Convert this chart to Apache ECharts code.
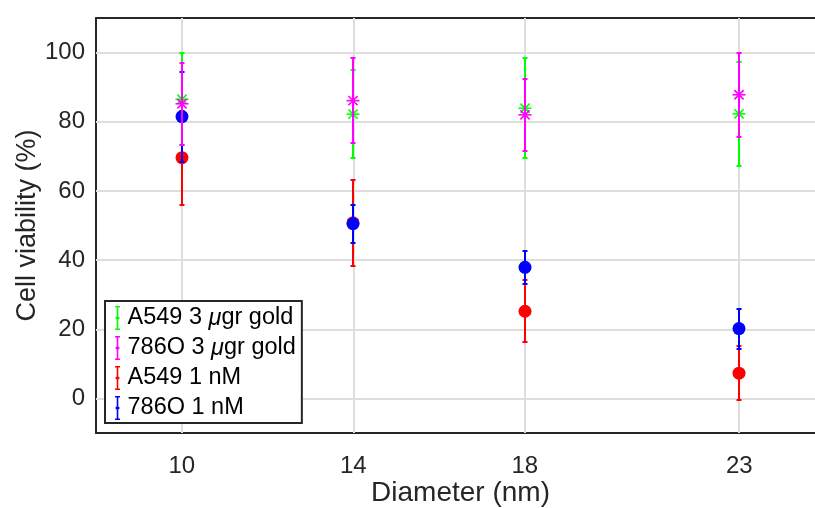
<!DOCTYPE html>
<html>
<head>
<meta charset="utf-8">
<script src="https://cdn.jsdelivr.net/npm/echarts@6/dist/echarts.min.js"></script>
<style>html,body{margin:0;padding:0;background:#fff;}#c{width:815px;height:508px;}</style>
</head>
<body>
<div id="c"></div>
<script>
// ---- data ----
const diameters = [10, 14, 18, 23];
const xTicks = [10, 14, 18, 23];
const yTicks = [0, 20, 40, 60, 80, 100];
const seriesNames = ['A549 3 μgr gold', '786O 3 μgr gold', 'A549 1 nM', '786O 1 nM'];
const a549GoldMean = [86.5, 82.2, 83.9, 82.3];
const a549GoldErr  = [13.3, 12.8, 14.5, 15.0];
const o786GoldMean = [85.2, 86.1, 82.0, 87.8];
const o786GoldErr  = [11.8, 12.2, 10.4, 12.1];
const a549NmMean   = [69.6, 50.8, 25.2, 7.3];
const a549NmErr    = [13.6, 12.4, 8.9, 7.8];
const o786NmMean   = [81.5, 50.5, 37.9, 20.2];
const o786NmErr    = [13.0, 5.5, 4.7, 5.8];

const FONT = '"Liberation Sans", Arial, Helvetica, sans-serif';
const TXT = '#262626';

function mk(mean, err) { return diameters.map((d, i) => [d, mean[i], err[i]]); }

function makeRender(color, marker) {
  return function (params, api) {
    const x = api.value(0), y = api.value(1), e = api.value(2);
    const t = api.coord([x, y + e]);
    const b = api.coord([x, y - e]);
    const c = api.coord([x, y]);
    const px = Math.round(c[0]);
    const ty = Math.round(t[1]), by = Math.round(b[1]);
    const cw = 2.5;
    const ls = { stroke: color, lineWidth: 2, fill: null };
    const children = [
      { type: 'line', shape: { x1: px, y1: ty, x2: px, y2: by }, style: ls },
      { type: 'line', shape: { x1: px - cw, y1: ty, x2: px + cw, y2: ty }, style: ls },
      { type: 'line', shape: { x1: px - cw, y1: by, x2: px + cw, y2: by }, style: ls }
    ];
    if (marker === 'circle') {
      children.push({ type: 'circle', shape: { cx: px, cy: c[1], r: 6.5 }, style: { fill: color } });
    } else {
      const r = 6.5, d = r * 0.707;
      const ss = { stroke: color, lineWidth: 1.6, fill: null };
      children.push({ type: 'line', shape: { x1: px - r, y1: c[1], x2: px + r, y2: c[1] }, style: ss });
      children.push({ type: 'line', shape: { x1: px, y1: c[1] - r, x2: px, y2: c[1] + r }, style: ss });
      children.push({ type: 'line', shape: { x1: px - d, y1: c[1] - d, x2: px + d, y2: c[1] + d }, style: ss });
      children.push({ type: 'line', shape: { x1: px - d, y1: c[1] + d, x2: px + d, y2: c[1] - d }, style: ss });
    }
    return { type: 'group', children: children };
  };
}

const colors = ['#00ff00', '#ff00ff', '#ff0000', '#0000ff'];
const markers = ['star', 'star', 'circle', 'circle'];
const dataSets = [mk(a549GoldMean, a549GoldErr), mk(o786GoldMean, o786GoldErr), mk(a549NmMean, a549NmErr), mk(o786NmMean, o786NmErr)];
const zs = [4, 5, 2, 3];

const ICON = 'path://M2.5,0H7.5V1.6H2.5Z M2.5,22.4H7.5V24H2.5Z M4.2,0H5.8V24H4.2Z M5,9.6L7.4,12L5,14.4L2.6,12Z';

const series = [{
  type: 'scatter', data: [], silent: true, z: 1,
  markLine: {
    silent: true, symbol: ['none', 'none'], animation: false, z: 1,
    label: { show: false },
    lineStyle: { type: 'solid', color: '#dedede', width: 2 },
    data: xTicks.map(v => ({ xAxis: v })).concat(yTicks.map(v => ({ yAxis: v })))
  }
}];
seriesNames.forEach((n, i) => {
  series.push({
    name: n, type: 'custom', z: zs[i],
    itemStyle: { color: colors[i], borderWidth: 0 },
    renderItem: makeRender(colors[i], markers[i]),
    encode: { x: 0, y: 1 },
    data: dataSets[i]
  });
});

const chart = echarts.init(document.getElementById('c'), null, { renderer: 'canvas' });
chart.setOption({
  animation: false,
  backgroundColor: '#fff',
  grid: { left: 96, right: -10, top: 18, bottom: 75, show: false, containLabel: false, outerBoundsMode: 'none' },
  xAxis: [{
    type: 'value', min: 8, max: 25,
    name: 'Diameter (nm)', nameLocation: 'middle', nameGap: 46, nameMoveOverlap: false,
    nameTextStyle: { fontFamily: FONT, fontSize: 28, color: TXT },
    axisLine: { show: true, onZero: false, lineStyle: { color: TXT, width: 2 } },
    axisTick: { show: true, inside: true, length: 7, customValues: xTicks, lineStyle: { color: TXT, width: 2 } },
    axisLabel: { show: true, customValues: xTicks, margin: 21, fontFamily: FONT, fontSize: 24, color: TXT },
    splitLine: { show: false }
  }, {
    type: 'value', min: 8, max: 25, position: 'top',
    axisLine: { show: true, onZero: false, lineStyle: { color: TXT, width: 2 } },
    axisTick: { show: true, inside: true, length: 7, customValues: xTicks, lineStyle: { color: TXT, width: 2 } },
    axisLabel: { show: false },
    splitLine: { show: false }
  }],
  yAxis: {
    type: 'value', min: -10, max: 110,
    name: 'Cell viability (%)', nameLocation: 'middle', nameGap: 55, nameMoveOverlap: false,
    nameTextStyle: { fontFamily: FONT, fontSize: 27, color: TXT },
    axisLine: { show: true, onZero: false, lineStyle: { color: TXT, width: 2 } },
    axisTick: { show: true, inside: true, length: 7, customValues: yTicks, lineStyle: { color: TXT, width: 2 } },
    axisLabel: { show: true, customValues: yTicks, margin: 11, fontFamily: FONT, fontSize: 24, color: TXT },
    splitLine: { show: false }
  },
  legend: {
    orient: 'vertical', left: 105, top: 301,
    backgroundColor: '#fff', borderColor: TXT, borderWidth: 2,
    padding: [5, 6, 3, 10], itemGap: 6,
    itemWidth: 10, itemHeight: 24,
    data: seriesNames.map(n => ({ name: n, icon: ICON })),
    formatter: function (name) { return name.replace('μ', '{it|μ}'); },
    textStyle: {
      fontFamily: FONT, fontSize: 23.5, color: '#000',
      rich: { it: { fontFamily: FONT, fontSize: 23.5, fontStyle: 'italic', color: '#000' } }
    },
    selectedMode: false
  },
  series: series
});
</script>
</body>
</html>
